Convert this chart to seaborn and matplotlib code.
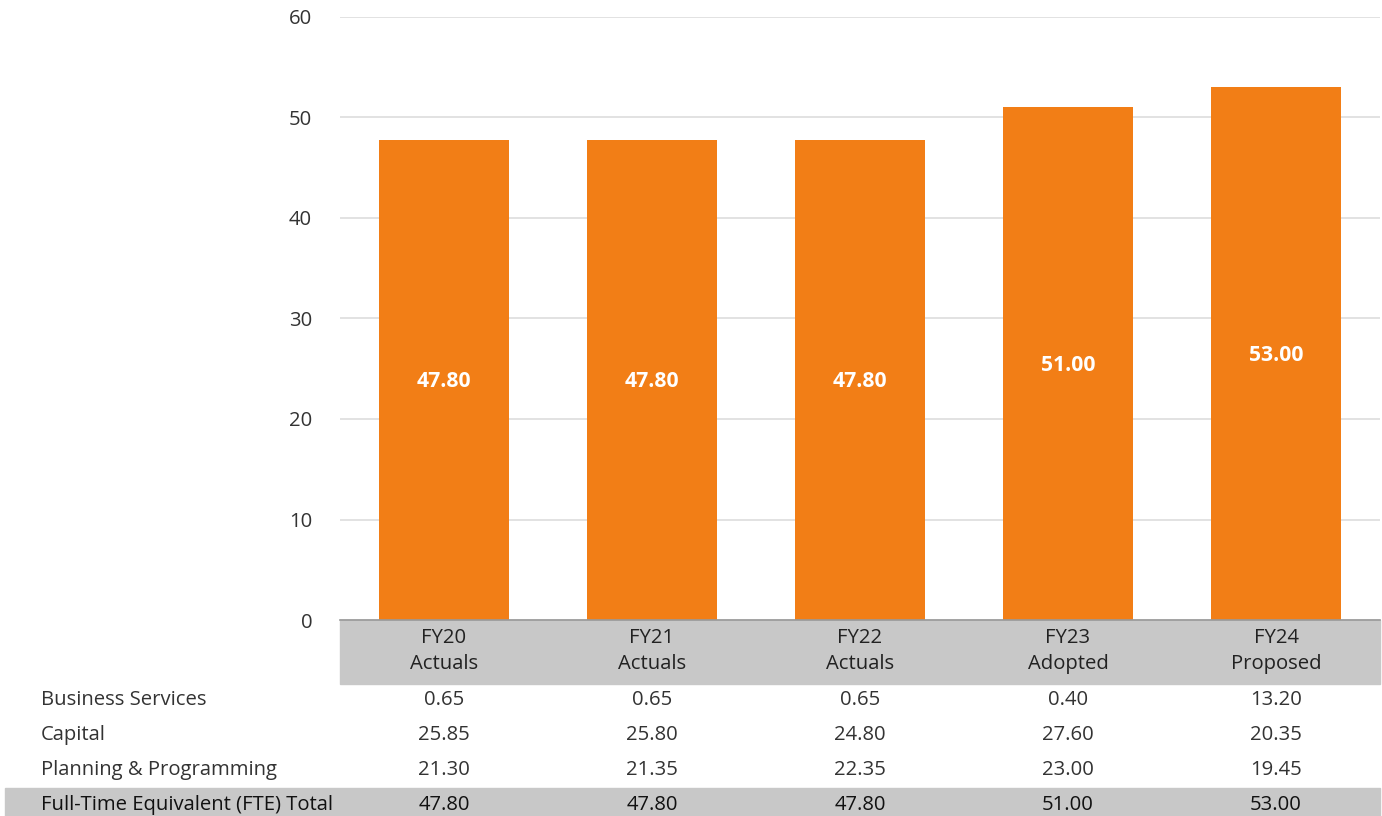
import matplotlib
matplotlib.use("Agg")
import matplotlib.pyplot as plt
import matplotlib.transforms as mtransforms
from matplotlib.patches import Rectangle
import pandas as pd
import seaborn as sns

# data
years = ["FY20\nActuals", "FY21\nActuals", "FY22\nActuals", "FY23\nAdopted", "FY24\nProposed"]
business_services = [0.65, 0.65, 0.65, 0.40, 13.20]
capital = [25.85, 25.80, 24.80, 27.60, 20.35]
planning = [21.30, 21.35, 22.35, 23.00, 19.45]
totals = [47.80, 47.80, 47.80, 51.00, 53.00]
row_names = ["Business Services", "Capital", "Planning & Programming"]

sns.set_theme(style="white")
plt.rcParams["font.family"] = ["Open Sans", "DejaVu Sans"]

W, H = 1382, 816
FS = 14.6
fig = plt.figure(figsize=(W / 100, H / 100), dpi=100)
ax = fig.add_axes([340 / W, (H - 620) / H, 1040 / W, (620 - 17) / H])

orange = "#F27E16"
df = pd.DataFrame({"year": years, "bs": business_services, "cap": capital, "plan": planning})

# stacked segments, all drawn in the same orange
bottom = [0.0] * len(years)
for col in ["bs", "cap", "plan"]:
    sns.barplot(data=df, x="year", y=col, color=orange, width=0.625, bottom=bottom,
                ax=ax, saturation=1, edgecolor="none", linewidth=0)
    bottom = [b + v for b, v in zip(bottom, df[col])]

# totals inside bars
for i, t in enumerate(totals):
    ax.text(i, t / 2 - 0.2, f"{t:.2f}", ha="center", va="center", color="white",
            fontsize=15.2, fontweight="bold")

ax.set_ylim(0, 60)
ax.set_xlim(-0.5, len(years) - 0.5)
ax.set_yticks(range(0, 61, 10))
ax.yaxis.grid(True, color="#DDDDDD", linewidth=1.2)
ax.set_axisbelow(True)
for s in ["top", "right", "left"]:
    ax.spines[s].set_visible(False)
ax.spines["bottom"].set_color("#999999")
ax.spines["bottom"].set_linewidth(1.2)
ax.tick_params(axis="y", length=0, labelsize=FS, labelcolor="#333333", pad=20)
ax.set_xticks([])
ax.set_xlabel("")
ax.set_ylabel("")

# table below the axis
fig.patches.append(Rectangle((340 / W, (H - 684) / H), 1040 / W, 64 / H,
                             transform=fig.transFigure, color="#C8C8C8", zorder=-1))
fig.patches.append(Rectangle((5 / W, 0), 1375 / W, 28 / H,
                             transform=fig.transFigure, color="#C8C8C8", zorder=-1))

trans = mtransforms.blended_transform_factory(ax.transData, fig.transFigure)
for i, lab in enumerate(years):
    ax.text(i, (H - 651) / H, lab, transform=trans, ha="center", va="center",
            fontsize=FS, color="#222222", linespacing=1.38, clip_on=False)

rows = [business_services, capital, planning]
row_y = [700, 735, 770]
for name, vals, y in zip(row_names, rows, row_y):
    fig.text(41 / W, (H - y) / H, name, ha="left", va="center", fontsize=FS, color="#333333")
    for i, v in enumerate(vals):
        ax.text(i, (H - y) / H, f"{v:.2f}", transform=trans, ha="center", va="center",
                fontsize=FS, color="#333333", clip_on=False)

fig.text(41 / W, (H - 805) / H, "Full-Time Equivalent (FTE) Total", ha="left", va="center",
         fontsize=FS, color="#111111")
for i, t in enumerate(totals):
    ax.text(i, (H - 805) / H, f"{t:.2f}", transform=trans, ha="center", va="center",
            fontsize=FS, color="#111111", clip_on=False)

fig.savefig("out.png", dpi=100)
